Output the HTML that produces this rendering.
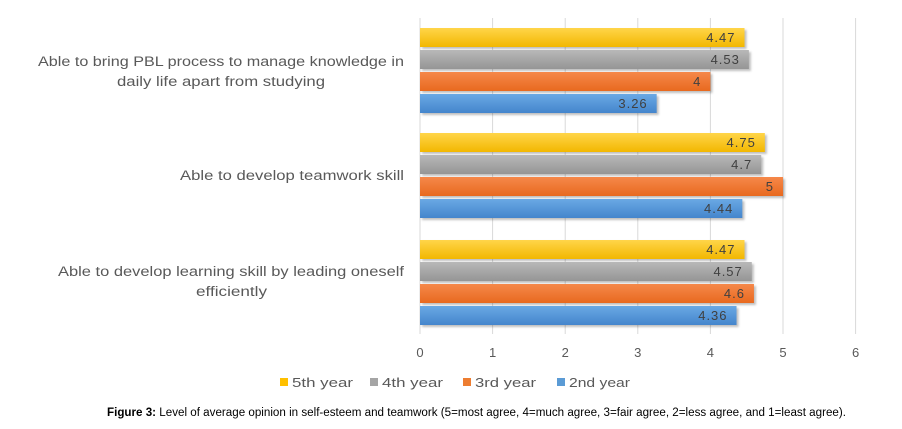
<!DOCTYPE html>
<html><head><meta charset="utf-8"><style>
body{margin:0;background:#fff;width:902px;height:424px;overflow:hidden;font-family:"Liberation Sans",sans-serif}
</style></head><body>
<svg id="chart" width="902" height="424" xmlns="http://www.w3.org/2000/svg">
<defs>
<linearGradient id="g5" x1="0" y1="0" x2="0" y2="1"><stop offset="0" stop-color="#ffd54a"/><stop offset="1" stop-color="#f2b700"/></linearGradient>
<linearGradient id="g4" x1="0" y1="0" x2="0" y2="1"><stop offset="0" stop-color="#b8b8b8"/><stop offset="1" stop-color="#959595"/></linearGradient>
<linearGradient id="g3" x1="0" y1="0" x2="0" y2="1"><stop offset="0" stop-color="#f5884a"/><stop offset="1" stop-color="#e8691f"/></linearGradient>
<linearGradient id="g2" x1="0" y1="0" x2="0" y2="1"><stop offset="0" stop-color="#6aa9e4"/><stop offset="1" stop-color="#4485cc"/></linearGradient>
</defs>
<g id="grid"></g><g id="bars"></g><g id="labels"></g>
<g font-size="13.5" fill="#595959">
<text x="38" y="66" textLength="366" lengthAdjust="spacingAndGlyphs">Able to bring PBL process to manage knowledge in</text>
<text x="117" y="86" textLength="208" lengthAdjust="spacingAndGlyphs">daily life apart from studying</text>
<text x="180" y="180" textLength="224" lengthAdjust="spacingAndGlyphs">Able to develop teamwork skill</text>
<text x="58" y="276" textLength="346" lengthAdjust="spacingAndGlyphs">Able to develop learning skill by leading oneself</text>
<text x="196" y="296" textLength="71" lengthAdjust="spacingAndGlyphs">efficiently</text>
</g>
<text x="107" y="416" textLength="739" lengthAdjust="spacingAndGlyphs" font-size="11.5" fill="#000"><tspan font-weight="bold">Figure 3:</tspan> Level of average opinion in self-esteem and teamwork (5=most agree, 4=much agree, 3=fair agree, 2=less agree, and 1=least agree).</text>
</svg>
<script>
const seriesNames=["5th year","4th year","3rd year","2nd year"];
const y5=[4.47,4.75,4.47];
const y4=[4.53,4.7,4.57];
const y3=[4,5,4.6];
const y2=[3.26,4.44,4.36];
const ticks=[0,1,2,3,4,5,6];
const series=[y5,y4,y3,y2];
const fills=["url(#g5)","url(#g4)","url(#g3)","url(#g2)"];
const legendColors=["#ffc000","#a5a5a5","#ed7d31","#5b9bd5"];
const NS="http://www.w3.org/2000/svg";
const x0=420,unit=72.6;
const X=v=>x0+v*unit;
const groupTop=[28,133,240];
function mk(t,a,p){const e=document.createElementNS(NS,t);for(const k in a)e.setAttribute(k,a[k]);p.appendChild(e);return e;}
const grid=document.getElementById('grid'),bars=document.getElementById('bars'),labels=document.getElementById('labels');
ticks.forEach(t=>{
 const l=mk('line',{x1:X(t),x2:X(t),y1:18,y2:334,stroke:'#d9d9d9','stroke-width':1},grid);
 
 
 const tx=mk('text',{x:X(t),y:357,'text-anchor':'middle','font-size':13,fill:'#595959'},labels);
 tx.textContent=t;
 
 
});
groupTop.forEach((g,i)=>{
 series.forEach((s,j)=>{
  const y=g+j*22;
  const r=mk('rect',{x:x0,y:y,width:X(s[i])-x0,height:19,fill:fills[j],style:'filter:drop-shadow(2px 2px 1px rgba(0,0,0,0.25))'},bars);
  
  
  const t=mk('text',{x:X(s[i])-9,y:y+14,'text-anchor':'end','font-size':13,'letter-spacing':'1',fill:'#404040'},labels);
  t.textContent=s[i];
  
  
 });
});
const lx=[280,370,463,557];
seriesNames.forEach((n,j)=>{
 const r=mk('rect',{x:lx[j],y:378,width:8,height:8,fill:legendColors[j]},labels);
 
 
 const t=mk('text',{x:lx[j]+12,y:387,'font-size':13,textLength:61,lengthAdjust:'spacingAndGlyphs',fill:'#595959'},labels);
 t.textContent=n;
 
 
});
</script>
</body></html>
